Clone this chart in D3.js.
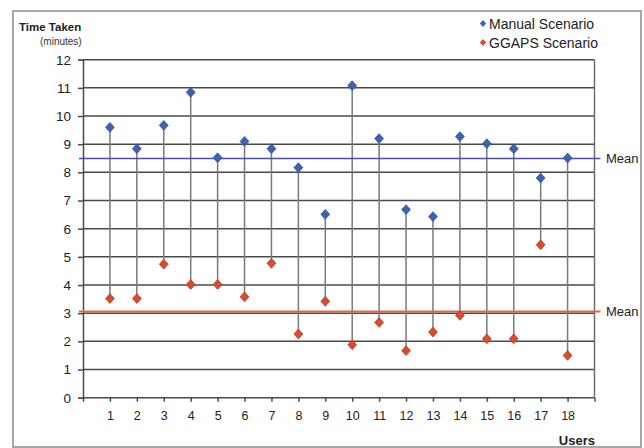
<!DOCTYPE html>
<html>
<head>
<meta charset="utf-8">
<script src="https://cdn.jsdelivr.net/npm/d3@7"></script>
<style>
  html, body { margin: 0; padding: 0; background: #fff; }
  svg { display: block; font-family: "Liberation Sans", Arial, sans-serif; }
</style>
</head>
<body>
<svg id="chart" width="644" height="448"></svg>
<script>
// ---- data ----
const users = [1, 2, 3, 4, 5, 6, 7, 8, 9, 10, 11, 12, 13, 14, 15, 16, 17, 18];
const manualTimes = [9.6, 8.84, 9.67, 10.84, 8.52, 9.1, 8.84, 8.17, 6.51, 11.08, 9.2, 6.68, 6.43, 9.27, 9.02, 8.84, 7.8, 8.51];
const ggapsTimes = [3.52, 3.52, 4.74, 4.02, 4.02, 3.58, 4.77, 2.26, 3.42, 1.88, 2.67, 1.67, 2.33, 2.92, 2.09, 2.09, 5.43, 1.5];
const seriesNames = ["Manual Scenario", "GGAPS Scenario"];
const meanValues = [8.49, 3.06];
const yTicks = [0, 1, 2, 3, 4, 5, 6, 7, 8, 9, 10, 11, 12];
const xTicks = [0, 1, 2, 3, 4, 5, 6, 7, 8, 9, 10, 11, 12, 13, 14, 15, 16, 17, 18, 19];

const colors = ["#3d62b5", "#dc4a2c"];
const meanColors = ["#4b4fa3", "#e2664a"];

const svg = d3.select("#chart");

// outer frame
svg.append("rect").attr("x", 13).attr("y", 11).attr("width", 628).attr("height", 436)
  .attr("fill", "none").attr("stroke", "#a7a7a7").attr("stroke-width", 2);

const x = d3.scaleLinear().domain([0, 19]).range([83, 594.5]);
const y = d3.scaleLinear().domain([0, 12]).range([397.7, 59.7]);

// horizontal gridlines
svg.append("g").selectAll("line").data(yTicks.filter(d => d > 0)).join("line")
  .attr("x1", x(0)).attr("x2", x(19))
  .attr("y1", d => y(d)).attr("y2", d => y(d))
  .attr("stroke", "#4a4a4a").attr("stroke-width", 1.5);

// right border of plot
svg.append("line").attr("x1", x(19)).attr("x2", x(19)).attr("y1", y(12)).attr("y2", y(0))
  .attr("stroke", "#666").attr("stroke-width", 1.4);

// y axis
const yAxis = d3.axisLeft(y).tickValues(yTicks).tickSize(5).tickPadding(7).tickFormat(d3.format("d"));
const gy = svg.append("g").attr("transform", `translate(${x(0)},0)`).call(yAxis);
gy.select(".domain").attr("stroke", "#4a4a4a").attr("stroke-width", 1.5);
gy.selectAll(".tick line").attr("stroke", "#4a4a4a").attr("stroke-width", 1.5);
gy.selectAll(".tick text").attr("font-size", 13.5).attr("fill", "#222")
  .attr("font-family", "'Liberation Sans', Arial, sans-serif");

// x axis
const xAxis = d3.axisBottom(x).tickValues(xTicks).tickSize(4).tickPadding(9)
  .tickFormat(d => users.includes(d) ? String(d) : "");
const gx = svg.append("g").attr("transform", `translate(0,${y(0)})`).call(xAxis);
gx.select(".domain").attr("stroke", "#4a4a4a").attr("stroke-width", 1.5).attr("d", `M${x(0)},0H${x(19)}`);
gx.selectAll(".tick line").attr("stroke", "#4a4a4a").attr("stroke-width", 1.5);
gx.selectAll(".tick text").attr("font-size", 12.5).attr("fill", "#222")
  .attr("font-family", "'Liberation Sans', Arial, sans-serif");

// stems
svg.append("g").selectAll("line").data(users).join("line")
  .attr("x1", (d) => x(d)).attr("x2", (d) => x(d))
  .attr("y1", (d, i) => y(manualTimes[i])).attr("y2", (d, i) => y(ggapsTimes[i]))
  .attr("stroke", "#7a7a7a").attr("stroke-width", 1.5);

// mean lines
meanValues.forEach((m, k) => {
  svg.append("line").attr("x1", x(0) - 4).attr("x2", x(19) + 6)
    .attr("y1", y(m)).attr("y2", y(m))
    .attr("stroke", meanColors[k]).attr("stroke-width", k === 0 ? 1.5 : 2.2);
  svg.append("text").attr("x", 606).attr("y", y(m)).attr("dy", "0.36em")
    .attr("font-size", 13).attr("fill", "#222").text("Mean");
});

// diamonds
const diamond = d3.symbol().type(d3.symbolSquare).size(40);
[manualTimes, ggapsTimes].forEach((vals, k) => {
  svg.append("g").selectAll("path").data(users).join("path")
    .attr("d", diamond)
    .attr("transform", (d, i) => `translate(${x(d)},${y(vals[i])}) scale(1,1.1) rotate(45)`)
    .attr("fill", colors[k]).attr("stroke", d3.color(colors[k]).darker(0.8)).attr("stroke-width", 0.6);
});

// legend
seriesNames.forEach((name, k) => {
  const ly = 23.5 + k * 19;
  svg.append("path").attr("d", d3.symbol().type(d3.symbolSquare).size(20))
    .attr("transform", `translate(483,${ly}) scale(1,1.1) rotate(45)`)
    .attr("fill", colors[k]);
  svg.append("text").attr("x", 489).attr("y", ly).attr("dy", "0.36em")
    .attr("font-size", 14).attr("fill", "#222").text(name);
});

// axis titles
svg.append("text").attr("x", 19).attr("y", 30.5).attr("font-size", 11.5).attr("font-weight", "bold")
  .attr("fill", "#222").text("Time Taken");
svg.append("text").attr("x", 40).attr("y", 45).attr("font-size", 10)
  .attr("fill", "#333").text("(minutes)");
svg.append("text").attr("x", 595).attr("y", 445).attr("text-anchor", "end")
  .attr("font-size", 13).attr("font-weight", "bold").attr("fill", "#222").text("Users");
</script>
</body>
</html>
